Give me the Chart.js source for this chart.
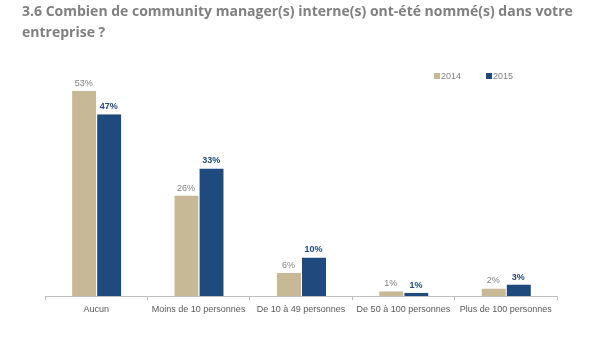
<!DOCTYPE html>
<html>
<head>
<meta charset="utf-8">
<script src="https://cdn.jsdelivr.net/npm/chart.js@4/dist/chart.umd.min.js"></script>
<style>
    html, body { margin: 0; padding: 0; background: #ffffff; }
    #wrap { width: 600px; height: 347px; position: relative; }
</style>
</head>
<body>
<div id="wrap"><canvas id="chart"></canvas></div>
<script>
const categories = ['Aucun', 'Moins de 10 personnes', 'De 10 à 49 personnes', 'De 50 à 100 personnes', 'Plus de 100 personnes'];
const values2014 = [53, 26, 6, 1.3, 2];
const values2015 = [47, 33, 10, 0.9, 3];
const seriesLabels = ['2014', '2015'];
const titleLines = ['3.6 Combien de community manager(s) interne(s) ont-été nommé(s) dans votre', 'entreprise ?'];

const tan = '#c8b996';
const navy = '#1f4a7e';

// Question title, left aligned further out than the plot
const questionTitle = {
    id: 'questionTitle',
    beforeDraw(chart) {
        const ctx = chart.ctx;
        ctx.save();
        ctx.font = 'bold 14px "Open Sans", sans-serif';
        ctx.fillStyle = '#808080';
        ctx.textAlign = 'left';
        ctx.textBaseline = 'middle';
        titleLines.forEach((line, i) => {
            ctx.fillText(line, 22, 12 + i * 21);
        });
        ctx.restore();
    },
};

// Percent labels above each bar
const valueLabels = {
    id: 'valueLabels',
    afterDatasetsDraw(chart) {
        const ctx = chart.ctx;
        ctx.save();
        ctx.textAlign = 'center';
        ctx.textBaseline = 'bottom';
        chart.data.datasets.forEach((ds, i) => {
            const meta = chart.getDatasetMeta(i);
            ctx.fillStyle = i === 0 ? '#7f7f7f' : '#1f4a7e';
            ctx.font = (i === 0 ? '' : 'bold ') + '9px Arial, "Liberation Sans"';
            meta.data.forEach((bar, j) => {
                ctx.fillText(Math.round(ds.data[j]) + '%', bar.x, bar.y - 3);
            });
        });
        ctx.restore();
    },
};

// Small legend at the top right, like the original
const miniLegend = {
    id: 'miniLegend',
    afterDraw(chart) {
        const ctx = chart.ctx;
        const xs = [434, 486];
        const y = 76;
        ctx.save();
        ctx.font = '9px Arial, "Liberation Sans"';
        ctx.textBaseline = 'middle';
        ctx.textAlign = 'left';
        chart.data.datasets.forEach((ds, i) => {
            ctx.fillStyle = ds.backgroundColor;
            ctx.fillRect(xs[i], y - 3, 6, 6);
            ctx.fillStyle = '#7f7f7f';
            ctx.fillText(ds.label, xs[i] + 7, y + 0.5);
        });
        ctx.restore();
    },
};

new Chart(document.getElementById('chart').getContext('2d'), {
    type: 'bar',
    data: {
        labels: categories,
        datasets: [
            {
                label: seriesLabels[0],
                data: values2014,
                backgroundColor: tan,
                borderColor: '#ffffff',
                borderWidth: { left: 1, right: 0, top: 0, bottom: 0 },
            },
            {
                label: seriesLabels[1],
                data: values2015,
                backgroundColor: navy,
                borderColor: '#ffffff',
                borderWidth: { left: 1, right: 0, top: 0, bottom: 0 },
            },
        ],
    },
    options: {
        responsive: true,
        maintainAspectRatio: false,
        animation: false,
        events: [],
        layout: {
            padding: { left: 45, right: 43, top: 62, bottom: 28 },
        },
        datasets: {
            bar: {
                categoryPercentage: 0.49,
                barPercentage: 1.0,
            },
        },
        plugins: {
            legend: { display: false },
            tooltip: { enabled: false },
            title: { display: false },
        },
        scales: {
            x: {
                grid: {
                    display: true,
                    drawOnChartArea: false,
                    drawTicks: true,
                    tickLength: 4,
                    offset: true,
                    color: '#bfbfbf',
                },
                border: { display: true, color: '#bfbfbf' },
                ticks: {
                    color: '#595959',
                    font: { family: 'Arial, "Liberation Sans"', size: 9 },
                    padding: 4,
                    maxRotation: 0,
                    autoSkip: false,
                },
            },
            y: {
                display: false,
                min: 0,
                max: 60.5,
            },
        },
    },
    plugins: [questionTitle, valueLabels, miniLegend],
});
</script>
</body>
</html>
